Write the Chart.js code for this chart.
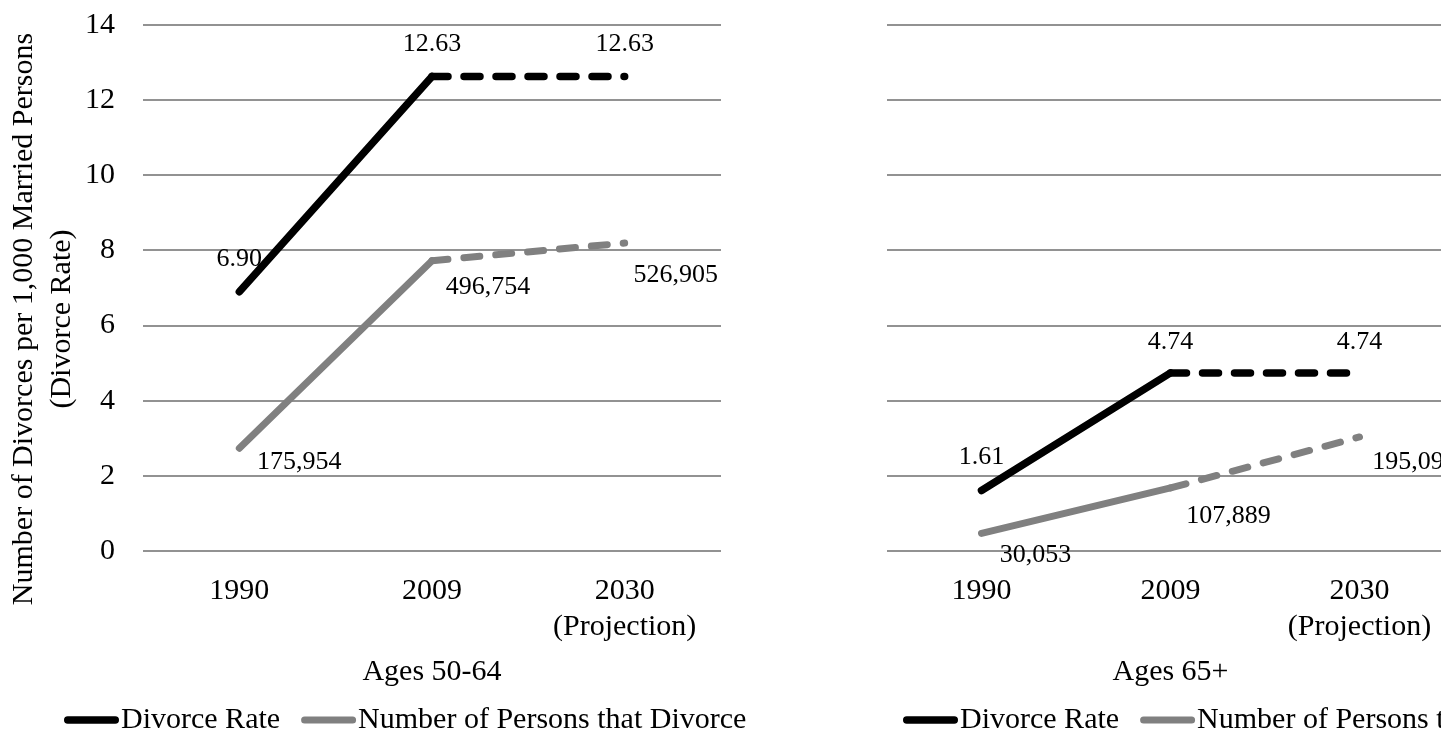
<!DOCTYPE html>
<html>
<head>
<meta charset="utf-8">
<title>Divorce among older adults</title>
<script src="https://cdn.jsdelivr.net/npm/chart.js@4.4.1/dist/chart.umd.min.js"></script>
<style>
  html, body { margin: 0; padding: 0; background: #fff; overflow: hidden; width: 1441px; height: 751px; }
  canvas { position: absolute; top: 0; }
  #panelLeft { left: 0; }
  #panelRight { left: 860px; }
</style>
</head>
<body>
<canvas id="panelLeft" width="860" height="751"></canvas>
<canvas id="panelRight" width="766" height="751"></canvas>
<script>
// ---- data ----
const years = ['1990', '2009', ['2030', '(Projection)']];
const yTickValues = [0, 2, 4, 6, 8, 10, 12, 14];
const rateAges50to64 = [6.90, 12.63, 12.63];
const personsAges50to64 = [175954, 496754, 526905];
const rateAges65plus = [1.61, 4.74, 4.74];
const personsAges65plus = [30053, 107889, 195090];
const seriesNames = ['Divorce Rate', 'Number of Persons that Divorce'];
const panelTitles = ['Ages 50-64', 'Ages 65+'];
const yTitleLines = ['Number of Divorces per 1,000 Married Persons', '(Divorce Rate)'];

// ---- styling ----
const SERIF = '"Liberation Serif", "Times New Roman", Times, serif';
const PROJECTION_FROM = 1;           // segments after this index are projections
const DASH = [16, 16];

Chart.defaults.font.family = SERIF;
Chart.defaults.color = '#000';

const formatRate = v => v.toFixed(2);
const formatPersons = v => v.toLocaleString('en-US');

// value labels next to each point
const valueLabels = {
  id: 'valueLabels',
  afterDatasetsDraw(chart, args, opts) {
    const ctx = chart.ctx;
    ctx.save();
    ctx.font = opts.size + 'px ' + SERIF;
    ctx.fillStyle = '#000';
    ctx.textAlign = 'center';
    ctx.textBaseline = 'middle';
    chart.data.datasets.forEach((ds, i) => {
      const meta = chart.getDatasetMeta(i);
      meta.data.forEach((pt, j) => {
        const [dx, dy] = opts.offsets[i][j];
        ctx.fillText(opts.formats[i](ds.data[j]), pt.x + dx, pt.y + dy);
      });
    });
    ctx.restore();
  }
};

// legend drawn with line samples
const lineLegend = {
  id: 'lineLegend',
  afterDraw(chart, args, opts) {
    const ctx = chart.ctx;
    ctx.save();
    ctx.font = opts.size + 'px ' + SERIF;
    ctx.textAlign = 'left';
    ctx.textBaseline = 'middle';
    let x = opts.x;
    const y = opts.y;
    chart.data.datasets.forEach(ds => {
      const half = ds.borderWidth / 2;
      ctx.strokeStyle = ds.borderColor;
      ctx.lineWidth = ds.borderWidth;
      ctx.lineCap = 'round';
      ctx.beginPath();
      ctx.moveTo(x + half, y);
      ctx.lineTo(x + opts.sample - half, y);
      ctx.stroke();
      x += opts.sample + opts.textGap;
      ctx.fillStyle = '#000';
      ctx.fillText(ds.label, x, y);
      x += ctx.measureText(ds.label).width + opts.itemGap;
    });
    ctx.restore();
  }
};

// two-line rotated value-axis title
const sideTitle = {
  id: 'sideTitle',
  afterDraw(chart, args, opts) {
    if (!opts.lines) return;
    const ctx = chart.ctx;
    ctx.save();
    ctx.font = opts.size + 'px ' + SERIF;
    ctx.fillStyle = '#000';
    ctx.textAlign = 'center';
    ctx.textBaseline = 'middle';
    opts.lines.forEach((line, i) => {
      ctx.save();
      ctx.translate(opts.x + i * opts.lineGap, opts.y);
      ctx.rotate(-Math.PI / 2);
      ctx.fillText(line, 0, 0);
      ctx.restore();
    });
    ctx.restore();
  }
};

function makePanel(canvasId, cfg) {
  return new Chart(document.getElementById(canvasId), {
    type: 'line',
    data: {
      labels: years,
      datasets: [
        {
          label: seriesNames[0],
          data: cfg.rate,
          yAxisID: 'y',
          borderColor: '#000000',
          borderWidth: 7.5,
          borderCapStyle: 'round',
          borderJoinStyle: 'round',
          pointRadius: 0,
          tension: 0,
          segment: { borderDash: c => c.p0DataIndex >= PROJECTION_FROM ? DASH : undefined }
        },
        {
          label: seriesNames[1],
          data: cfg.persons,
          yAxisID: 'y2',
          borderColor: '#808080',
          borderWidth: 7,
          borderCapStyle: 'round',
          borderJoinStyle: 'round',
          pointRadius: 0,
          tension: 0,
          segment: { borderDash: c => c.p0DataIndex >= PROJECTION_FROM ? DASH : undefined }
        }
      ]
    },
    options: {
      responsive: false,
      animation: false,
      devicePixelRatio: 1,
      layout: { padding: { top: 25, left: 0, right: cfg.padRight, bottom: 0 } },
      scales: {
        x: {
          offset: true,
          grid: { display: false, drawTicks: false },
          border: { display: false },
          ticks: { padding: 22, autoSkip: false, maxRotation: 0, font: { size: 30, lineHeight: 1.2 }, color: '#000' },
          title: { display: true, text: cfg.title, color: '#000', font: { size: 30, lineHeight: 1.2 }, padding: { top: 0, bottom: 61 } },
          afterFit(s) { s.height = 200; s.paddingLeft = 0; s.paddingRight = 0; }
        },
        y: {
          min: 0,
          max: 14,
          afterBuildTicks(s) { s.ticks = yTickValues.map(v => ({ value: v })); },
          grid: { color: '#929292', lineWidth: 2, drawTicks: false },
          border: { display: false },
          ticks: { display: cfg.showTicks, padding: 28, font: { size: 30 }, color: '#000' },
          afterFit(s) { s.width = cfg.axisWidth; s.paddingTop = 0; s.paddingBottom = 0; }
        },
        y2: { display: false, min: 0, max: 900000 }
      },
      plugins: {
        legend: { display: false },
        tooltip: { enabled: false },
        valueLabels: { size: 26, formats: [formatRate, formatPersons], offsets: cfg.labelOffsets },
        lineLegend: { size: 30, x: cfg.legendX, y: 720, sample: 55, textGap: 2, itemGap: 21 },
        sideTitle: cfg.sideTitle || {}
      }
    },
    plugins: [valueLabels, lineLegend, sideTitle]
  });
}

makePanel('panelLeft', {
  rate: rateAges50to64,
  persons: personsAges50to64,
  title: panelTitles[0],
  showTicks: true,
  axisWidth: 143,
  padRight: 139,
  legendX: 64,
  labelOffsets: [
    [[0, -33], [0, -32], [0, -32]],
    [[60, 14], [56, 26], [51, 32]]
  ],
  sideTitle: { lines: yTitleLines, size: 30, x: 24, y: 319, lineGap: 38 }
});

makePanel('panelRight', {
  rate: rateAges65plus,
  persons: personsAges65plus,
  title: panelTitles[1],
  showTicks: false,
  axisWidth: 27,
  padRight: 172,
  legendX: 43,
  labelOffsets: [
    [[0, -33], [0, -31], [0, -31]],
    [[54, 22], [58, 28], [55, 25]]
  ]
});
</script>
</body>
</html>
